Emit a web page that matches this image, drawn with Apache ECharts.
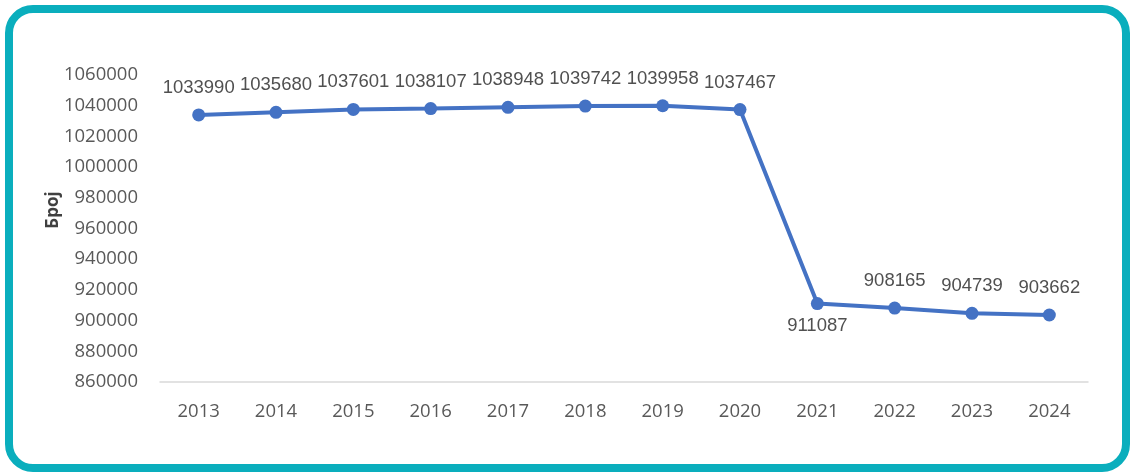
<!DOCTYPE html>
<html>
<head>
<meta charset="utf-8">
<script src="https://cdn.jsdelivr.net/npm/echarts@6/dist/echarts.min.js"></script>
<style>
  html, body { margin: 0; padding: 0; background: #fff; }
  #frame { position: absolute; left: 5px; top: 5px; width: 1125px; height: 467px; box-sizing: border-box;
           border: 8.5px solid #0AAEBD; border-radius: 28px; background: #fff; }
  #chart { position: absolute; left: 0; top: 0; width: 1130px; height: 472px; }
</style>
</head>
<body>
<div id="frame"></div>
<div id="chart"></div>
<script>
const years = ['2013','2014','2015','2016','2017','2018','2019','2020','2021','2022','2023','2024'];
const values = [1033990, 1035680, 1037601, 1038107, 1038948, 1039742, 1039958, 1037467, 911087, 908165, 904739, 903662];
const labelBelow = ['2021'];
const yTicks = { min: 860000, max: 1060000, interval: 20000 };
const yName = 'Број';

const chart = echarts.init(document.getElementById('chart'), null, { renderer: 'canvas' });
chart.setOption({
  backgroundColor: 'transparent',
  animation: false,
  grid: { left: 160, right: 42, top: 75, bottom: 90 },
  graphic: [{
    type: 'text',
    x: 53, y: 210,
    rotation: Math.PI / 2,
    style: {
      text: yName,
      fill: '#404040',
      font: 'bold 17px "Open Sans"',
      align: 'center',
      verticalAlign: 'middle'
    },
    z: 10
  }],
  xAxis: {
    type: 'category',
    data: years,
    boundaryGap: true,
    axisLine: { show: true, lineStyle: { color: '#d9d9d9', width: 1.5 } },
    axisTick: { show: false },
    axisLabel: { color: '#595959', fontFamily: 'Open Sans', fontSize: 18.5, margin: 20 }
  },
  yAxis: {
    type: 'value',
    min: yTicks.min, max: yTicks.max, interval: yTicks.interval,
    axisLine: { show: false },
    axisTick: { show: false },
    splitLine: { show: false },
    axisLabel: { color: '#595959', fontFamily: 'Open Sans', fontSize: 18.5, margin: 22,
                 formatter: (v) => String(v) }
  },
  series: [{
    type: 'line',
    data: values.map((v, i) => ({
      value: v,
      label: labelBelow.includes(years[i]) ? { position: 'bottom', distance: 6 } : undefined
    })),
    symbol: 'circle',
    symbolSize: 13,
    lineStyle: { color: '#4472C4', width: 4 },
    itemStyle: { color: '#4472C4' },
    label: {
      show: true,
      position: 'top',
      distance: 11,
      color: '#505050',
      fontFamily: 'Liberation Sans',
      fontSize: 18.5
    }
  }]
});
</script>
</body>
</html>
